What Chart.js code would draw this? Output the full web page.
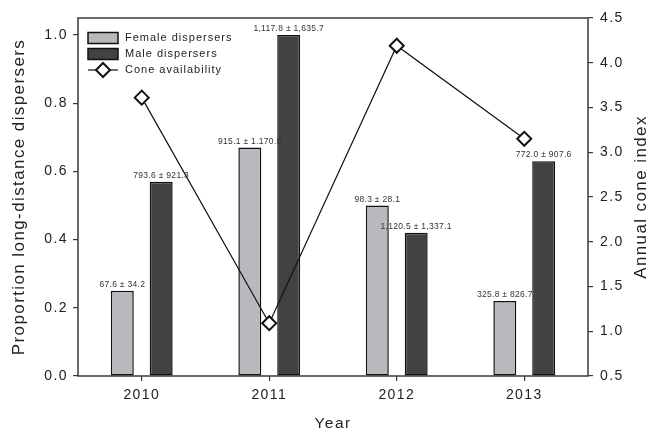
<!DOCTYPE html>
<html>
<head>
<meta charset="utf-8">
<script src="https://cdn.jsdelivr.net/npm/chart.js@4"></script>
<style>
  html, body { margin: 0; padding: 0; background: #fff; }
  #wrap { width: 649px; height: 431px; }
</style>
</head>
<body>
<div id="wrap"><canvas id="main-chart" width="649" height="431"></canvas></div>
<script>
// ---- Data ----
const years      = ['2010', '2011', '2012', '2013'];
const femaleProp = [0.25, 0.67, 0.50, 0.22];
const maleProp   = [0.57, 1.00, 0.42, 0.63];
const coneIndex  = [3.61, 1.09, 4.19, 3.15];
const femaleText = ['67.6 ± 34.2', '915.1 ± 1.170.8', '98.3 ± 28.1', '325.8 ± 826.7'];
const maleText   = ['793.6 ± 921.3', '1,117.8 ± 1,635.7', '1,120.5 ± 1,337.1', '772.0 ± 907.6'];
const leftTicks  = [0, 0.2, 0.4, 0.6, 0.8, 1.0];
const rightTicks = [0.5, 1.0, 1.5, 2.0, 2.5, 3.0, 3.5, 4.0, 4.5];

const FONT = "'Liberation Sans', Arial, sans-serif";
const AXIS_COL = '#3a3a3a';
const TEXT_COL = '#222';

const canvas = document.getElementById('main-chart');

new Chart(canvas, {
  type: 'bar',
  data: {
    labels: years,
    datasets: [
      {
        label: 'Cone availability',
        type: 'line',
        data: coneIndex,
        yAxisID: 'y1',
        borderColor: '#111',
        borderWidth: 1.2,
        pointStyle: 'rectRot',
        pointRadius: 7,
        pointBackgroundColor: '#fff',
        pointBorderColor: '#111',
        pointBorderWidth: 2,
        tension: 0,
        order: 0,
      },
      {
        label: 'Female dispersers',
        data: femaleProp,
        yAxisID: 'y',
        backgroundColor: '#b8b9bc',
        borderColor: '#111',
        borderWidth: 1.5,
        borderSkipped: false,
        categoryPercentage: 0.61,
        barPercentage: 0.59,
        order: 1,
      },
      {
        label: 'Male dispersers',
        data: maleProp,
        yAxisID: 'y',
        backgroundColor: '#404244',
        borderColor: '#111',
        borderWidth: 1.5,
        borderSkipped: false,
        categoryPercentage: 0.61,
        barPercentage: 0.59,
        order: 1,
      }
    ]
  },
  options: {
    responsive: false,
    animation: false,
    layout: { padding: { top: 18, left: 0, right: 0, bottom: 0 } },
    plugins: {
      legend: { display: false },
      tooltip: { enabled: false }
    },
    scales: {
      x: {
        offset: true,
        afterFit: s => { s.height = 55; },
        border: { display: false },
        grid: { offset: false, drawOnChartArea: false, drawTicks: true, tickLength: 5, color: AXIS_COL, lineWidth: 1.2 },
        ticks: { color: TEXT_COL, font: { family: FONT, size: 14 }, padding: 6 },
        title: { display: true, text: 'Year', color: TEXT_COL, font: { family: FONT, size: 15.5, lineHeight: 1 }, padding: 0 }
      },
      y: {
        position: 'left',
        min: 0, max: 1.05,
        afterFit: s => { s.width = 78; },
        afterBuildTicks: s => { s.ticks = leftTicks.map(v => ({ value: v })); },
        border: { display: false },
        grid: { drawOnChartArea: false, drawTicks: true, tickLength: 5, color: AXIS_COL, lineWidth: 1.2 },
        ticks: { color: TEXT_COL, font: { family: FONT, size: 14 }, padding: 5, callback: v => v.toFixed(1) },
        title: { display: true, text: 'Proportion long-distance dispersers', color: TEXT_COL, font: { family: FONT, size: 17 }, padding: { top: 9, bottom: 0 } }
      },
      y1: {
        position: 'right',
        min: 0.5, max: 4.5,
        afterFit: s => { s.width = 61; },
        afterBuildTicks: s => { s.ticks = rightTicks.map(v => ({ value: v })); },
        border: { display: false },
        grid: { drawOnChartArea: false, drawTicks: true, tickLength: 5, color: AXIS_COL, lineWidth: 1.2 },
        ticks: { color: TEXT_COL, font: { family: FONT, size: 14 }, padding: 7, callback: v => v.toFixed(1) }
      }
    }
  },
  plugins: [{
    id: 'decor',
    beforeDraw(chart) {
      // the figure's type is tracked a bit wider than plain Arial
      chart.ctx.letterSpacing = '1.4px';
    },
    beforeDatasetsDraw(chart) {
      const { ctx, chartArea: { left, right, top, bottom } } = chart;
      ctx.save();
      ctx.strokeStyle = AXIS_COL;
      ctx.lineWidth = 1.5;
      ctx.strokeRect(left, top, right - left, bottom - top);
      ctx.restore();
    },
    afterDraw(chart) {
      const { ctx, chartArea: { top, bottom } } = chart;
      ctx.save();

      // value labels above the bars
      ctx.letterSpacing = '0.3px';
      ctx.font = `8.5px ${FONT}`;
      ctx.fillStyle = '#333';
      ctx.textAlign = 'center';
      ctx.textBaseline = 'bottom';
      [[1, femaleText], [2, maleText]].forEach(([idx, texts]) => {
        chart.getDatasetMeta(idx).data.forEach((bar, i) => {
          ctx.fillText(texts[i], bar.x, bar.y - 2);
        });
      });

      // legend
      const ds = chart.data.datasets;
      const lx = 88, lw = 30, tx = 125;
      ctx.letterSpacing = '1px';
      ctx.font = `11px ${FONT}`;
      ctx.textAlign = 'left';
      ctx.textBaseline = 'middle';
      [[1, 38], [2, 54]].forEach(([idx, yy]) => {
        ctx.fillStyle = ds[idx].backgroundColor;
        ctx.fillRect(lx, yy - 5.5, lw, 11);
        ctx.strokeStyle = '#111';
        ctx.lineWidth = 1.5;
        ctx.strokeRect(lx, yy - 5.5, lw, 11);
        ctx.fillStyle = TEXT_COL;
        ctx.fillText(ds[idx].label, tx, yy);
      });
      const cy = 70, cx = lx + lw / 2;
      ctx.strokeStyle = '#111';
      ctx.lineWidth = 1.2;
      ctx.beginPath();
      ctx.moveTo(lx, cy); ctx.lineTo(lx + lw, cy);
      ctx.stroke();
      ctx.fillStyle = '#fff';
      ctx.lineWidth = 2;
      ctx.beginPath();
      ctx.moveTo(cx, cy - 7); ctx.lineTo(cx + 7, cy); ctx.lineTo(cx, cy + 7); ctx.lineTo(cx - 7, cy);
      ctx.closePath();
      ctx.fill(); ctx.stroke();
      ctx.fillStyle = TEXT_COL;
      ctx.fillText(ds[0].label, tx, cy);

      // right axis title, reading bottom to top
      ctx.letterSpacing = '1.4px';
      ctx.translate(641, (top + bottom) / 2);
      ctx.rotate(-Math.PI / 2);
      ctx.font = `17px ${FONT}`;
      ctx.textAlign = 'center';
      ctx.fillStyle = TEXT_COL;
      ctx.fillText('Annual cone index', 0, 0);
      ctx.restore();
    }
  }]
});
</script>
</body>
</html>
